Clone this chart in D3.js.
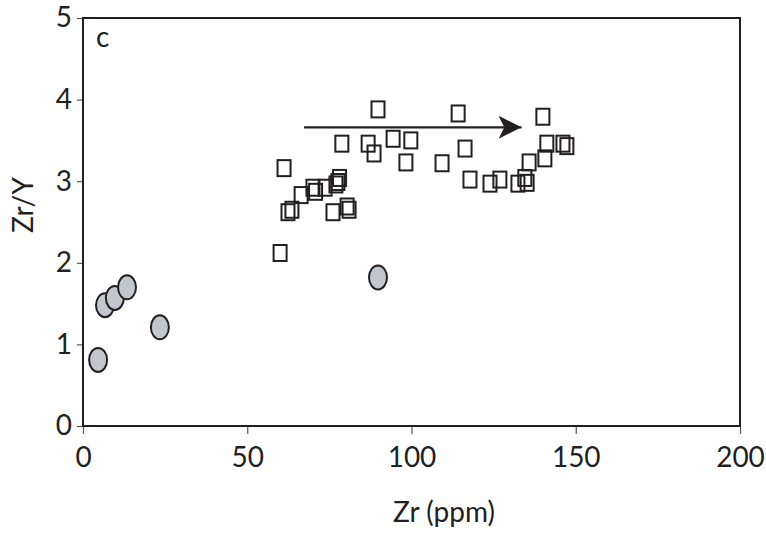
<!DOCTYPE html>
<html><head><meta charset="utf-8">
<script src="https://cdn.jsdelivr.net/npm/d3@7"></script>
<style>body{margin:0;background:#fff}svg{display:block}text{font-family:Lato,"Open Sans",sans-serif;fill:#231f20}</style>
</head><body>
<svg id="c" width="766" height="542"></svg>
<script>
const xTicks = [0, 50, 100, 150, 200];
const yTicks = [0, 1, 2, 3, 4, 5];
const circleX = [4.6, 6.7, 9.7, 13.4, 23.4, 89.8];
const circleY = [0.81, 1.48, 1.57, 1.70, 1.21, 1.82];
const squareX = [60.0, 61.2, 62.4, 63.6, 66.4, 70.0, 70.8, 73.7, 76.1, 77.0, 77.6, 78.1, 78.8, 80.4, 81.0, 86.8, 88.6, 89.8, 94.4, 98.3, 99.8, 109.3, 114.2, 116.3, 117.8, 123.9, 126.9, 132.4, 134.5, 135.2, 135.8, 140.0, 140.6, 141.2, 146.1, 147.3];
const squareY = [2.12, 3.16, 2.62, 2.65, 2.83, 2.92, 2.87, 2.92, 2.62, 2.96, 2.99, 3.04, 3.46, 2.69, 2.65, 3.46, 3.34, 3.88, 3.52, 3.23, 3.50, 3.22, 3.83, 3.40, 3.02, 2.97, 3.02, 2.97, 3.04, 2.98, 3.23, 3.79, 3.28, 3.46, 3.46, 3.43];
const arrowX = [67.3, 133.5];
const arrowY = [3.66, 3.66];

const svg = d3.select("#c");
const L = 83, R = 740, T = 18, B = 426;
const x = d3.scaleLinear().domain([0, 200]).range([L, R]);
const y = d3.scaleLinear().domain([0, 5]).range([B, T]);
const ink = "#231f20";
const FS = "28px";

const xa = svg.append("g").attr("transform", `translate(0,${B})`)
  .call(d3.axisBottom(x).tickValues(xTicks).tickSize(8).tickPadding(13).tickFormat(d3.format("d")));
const ya = svg.append("g").attr("transform", `translate(${L},0)`)
  .call(d3.axisLeft(y).tickValues(yTicks).tickSize(6).tickPadding(5).tickFormat(d3.format("d")));
[xa, ya].forEach(a => {
  a.select(".domain").remove();
  a.selectAll(".tick line").attr("stroke", "#555").attr("stroke-width", 1.2);
  a.selectAll("text").style("font-family", "Lato, 'Open Sans', sans-serif").style("font-size", FS).attr("fill", ink);
});

svg.append("rect").attr("x", L).attr("y", T).attr("width", R - L).attr("height", B - T)
  .attr("fill", "none").attr("stroke", ink).attr("stroke-width", 2);

// arrow
svg.append("defs").append("marker").attr("id", "ah").attr("viewBox", "0 0 10 10")
  .attr("refX", 10).attr("refY", 5).attr("markerWidth", 23).attr("markerHeight", 23)
  .attr("markerUnits", "userSpaceOnUse").attr("orient", "auto")
  .append("path").attr("d", "M0,0 L10,5 L0,10 L2.5,5 Z").attr("fill", ink);
svg.append("line").attr("x1", x(arrowX[0])).attr("x2", x(arrowX[1]))
  .attr("y1", y(arrowY[0])).attr("y2", y(arrowY[1]))
  .attr("stroke", ink).attr("stroke-width", 2.2).attr("marker-end", "url(#ah)");

// squares
const sq = squareX.map((v, i) => [v, squareY[i]]);
svg.append("g").selectAll("rect").data(sq).join("rect")
  .attr("x", d => x(d[0]) - 6.5).attr("y", d => y(d[1]) - 8)
  .attr("width", 13).attr("height", 16)
  .attr("fill", "none").attr("stroke", ink).attr("stroke-width", 2);

// circles
const ci = circleX.map((v, i) => [v, circleY[i]]);
svg.append("g").selectAll("ellipse").data(ci).join("ellipse")
  .attr("cx", d => x(d[0])).attr("cy", d => y(d[1]))
  .attr("rx", 9).attr("ry", 12)
  .attr("fill", "#c2c6cd").attr("stroke", ink).attr("stroke-width", 2);

svg.append("text").attr("x", 96).attr("y", 47).style("font-size", FS).text("c");
svg.append("text").attr("x", 444).attr("y", 522).attr("text-anchor", "middle")
  .style("font-size", FS).text("Zr (ppm)");
svg.append("text").attr("transform", `translate(33,205) rotate(-90)`)
  .attr("text-anchor", "middle").style("font-size", FS).text("Zr/Y");
</script>
</body></html>
